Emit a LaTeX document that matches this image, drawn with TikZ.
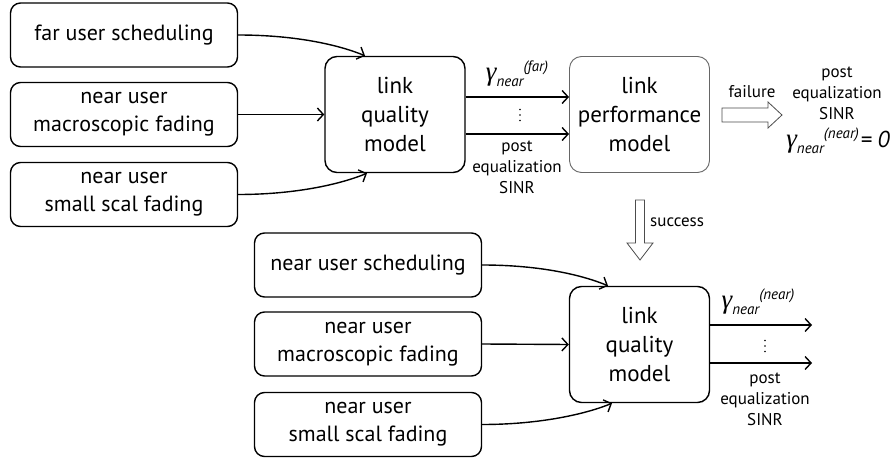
\documentclass[tikz,border=0pt]{standalone}
\usepackage{fontspec}
\setmainfont{PT Sans}
\newfontfamily\grkfont{Liberation Serif}
\usetikzlibrary{arrows.meta}

% gamma with subscript "near" and a bracketed superscript
\newcommand{\gammaLabel}[1]{{\fontsize{27}{27}\selectfont\grkfont\itshape γ}\raisebox{-6pt}{\fontsize{15}{15}\selectfont\itshape near}\raisebox{9pt}{\fontsize{15}{15}\selectfont\itshape (#1)}}

\begin{document}
\begin{tikzpicture}[x=1pt,y=1pt,
  box/.style={draw, line width=1.4pt, rounded corners=10pt, minimum width=227pt,
    minimum height=64pt, align=center, inner sep=0pt, font=\fontsize{22}{28}\selectfont},
  model/.style={draw, line width=1.4pt, rounded corners=12pt, minimum width=140pt,
    minimum height=116pt, align=center, inner sep=0pt, font=\fontsize{23}{29}\selectfont},
  lbl/.style={align=center, inner sep=0pt, font=\fontsize{17}{21}\selectfont},
  conn/.style={line width=1.4pt, -{Straight Barb[length=6pt,width=13pt,line width=1.4pt]}},
  hollow/.style={draw=black!70, line width=0.8pt, fill=white, line join=miter}]
\useasboundingbox (0,0) rectangle (895,459);

% three small vertical dots centred on a coordinate
\newcommand{\threedots}[1]{\fill (#1) circle (0.8) ++(0,5.5) circle (0.8) ++(0,-11) circle (0.8);}

% first stage: inputs, link quality model, link performance model
\node[box] (a1) at (124,424) {far user scheduling};
\node[box] (a2) at (124,344.5) {near user\\macroscopic fading};
\node[box] (a3) at (124,264.5) {near user\\small scal fading};
\node[model] (q1) at (395,344.5) {link\\quality\\model};
\node[model, draw=black!60, line width=0.9pt] (p1) at (639.5,344.5) {link\\performance\\model};

\draw[conn] (a1.east) .. controls +(60,0) and +(-24,10) .. ([xshift=-30pt]q1.north);
\draw[conn] (a2.east) -- (q1.west);
\draw[conn] (a3.east) .. controls +(60,0) and +(-24,-10) .. ([xshift=-28pt]q1.south);

\draw[conn] ([yshift=17.5pt]q1.east) -- ([yshift=17.5pt]p1.west);
\draw[conn] ([yshift=-19.5pt]q1.east) -- ([yshift=-19.5pt]p1.west);
\node (g1) at (517,385) {\gammaLabel{far}};
\coordinate (d1) at (520,344);
\threedots{d1}
\node[lbl] (post1) at (517,292) {post\\equalization\\SINR};

% failure branch
\coordinate (f0) at (722,344);
\draw[hollow] (f0) ++(0,7) -- ++(46,0) -- ++(0,6) -- ++(14,-13) -- ++(-14,-13)
  -- ++(0,6) -- ++(-46,0) -- cycle;
\node[lbl] (fail) at (752,367) {failure};
\node[lbl] (post3) at (837,365.5) {post\\equalization\\SINR};
\node (g3) at (838,318) {\gammaLabel{near}\,{\fontsize{23}{23}\selectfont\itshape = 0}};

% success branch
\coordinate (s0) at (640,259);
\draw[hollow] (s0) ++(-4.5,0) -- ++(0,-43) -- ++(-8.5,0) -- ++(13,-17) -- ++(13,17)
  -- ++(-8.5,0) -- ++(0,43) -- cycle;
\node[lbl, anchor=west] (succ) at (650,237) {success};

% second stage
\node[box] (b1) at (368,194) {near user scheduling};
\node[box] (b2) at (368,115) {near user\\macroscopic fading};
\node[box] (b3) at (368,34.5) {near user\\small scal fading};
\node[model] (q2) at (639.5,114.5) {link\\quality\\model};

\draw[conn] (b1.east) .. controls +(60,0) and +(-24,10) .. ([xshift=-31.5pt]q2.north);
\draw[conn] (b2.east) -- (q2.west);
\draw[conn] (b3.east) .. controls +(60,0) and +(-24,-10) .. ([xshift=-27.5pt]q2.south);

\coordinate (o1) at (812,134);
\coordinate (o2) at (812,96);
\draw[conn] ([yshift=19.5pt]q2.east) -- (o1);
\draw[conn] ([yshift=-18.5pt]q2.east) -- (o2);
\node (g2) at (758,157) {\gammaLabel{near}};
\coordinate (d2) at (765,113);
\threedots{d2}
\node[lbl] (post2) at (765,60) {post\\equalization\\SINR};
\end{tikzpicture}
\end{document}
